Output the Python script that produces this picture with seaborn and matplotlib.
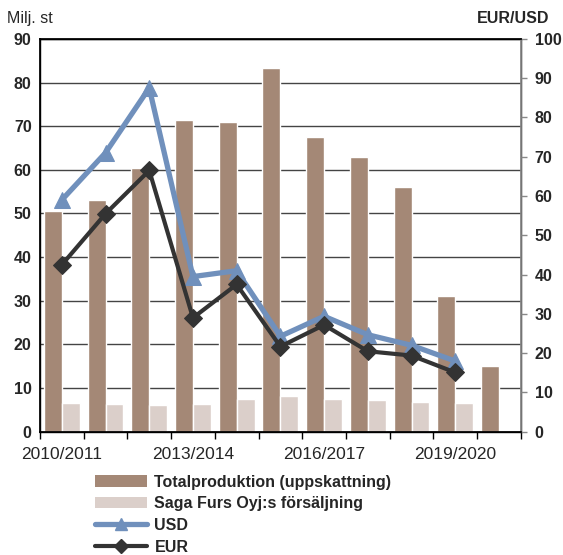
import numpy as np
import pandas as pd
import matplotlib
matplotlib.use("Agg")
import matplotlib.pyplot as plt
import seaborn as sns
from matplotlib.lines import Line2D
from matplotlib.patches import Patch

seasons = ["2010/2011", "2011/2012", "2012/2013", "2013/2014", "2014/2015",
           "2015/2016", "2016/2017", "2017/2018", "2018/2019", "2019/2020",
           "2020/2021"]
total_prod = [50.5, 53.0, 60.5, 71.3, 71.0, 83.3, 67.5, 63.0, 56.0, 31.0, 15.0]
saga_sales = [6.5, 6.3, 6.1, 6.3, 7.4, 8.1, 7.4, 7.2, 6.9, 6.5, np.nan]
usd = [59.0, 71.0, 87.5, 39.5, 41.0, 24.3, 29.4, 24.7, 22.0, 18.0, np.nan]
eur = [42.5, 55.5, 66.5, 29.0, 37.5, 21.7, 27.2, 20.5, 19.4, 15.1, np.nan]
tick_labels = ["2010/2011", "2013/2014", "2016/2017", "2019/2020"]

s1 = "Totalproduktion (uppskattning)"
s2 = "Saga Furs Oyj:s försäljning"
c_total = "#A48876"
c_saga = "#DBCFCA"
c_usd = "#7090BC"
c_eur = "#333333"

sns.set_theme(style="white")
plt.rcParams["font.family"] = ["Liberation Sans", "DejaVu Sans"]

df = pd.DataFrame({
    "season": seasons * 2,
    "value": total_prod + saga_sales,
    "series": [s1] * len(seasons) + [s2] * len(seasons),
})

fig = plt.figure(figsize=(5.63, 5.55), dpi=100)
ax = fig.add_axes([0.071, 0.222, 0.854, 0.708])
sns.barplot(data=df, x="season", y="value", hue="series", order=seasons,
            hue_order=[s1, s2], palette=[c_total, c_saga], width=0.82,
            saturation=1, ax=ax, legend=False, errorbar=None)

ax.set_ylim(0, 90)
ax.set_yticks(np.arange(0, 91, 10))
ax.yaxis.grid(True, color="#444444", linewidth=1.0)
ax.set_axisbelow(True)
ax.set_xlim(-0.5, len(seasons) - 0.5)
ax.set_xlabel("")
ax.set_ylabel("")
for lbl in ax.get_yticklabels():
    lbl.set_fontweight("bold")
ax.tick_params(axis="y", labelsize=11.5, length=0, pad=6)

pos = np.arange(len(seasons))
ax.set_xticks(pos[::3])
ax.set_xticklabels(tick_labels, fontsize=12.5)
ax.set_xticks(np.arange(len(seasons) + 1) - 0.5, minor=True)
ax.tick_params(axis="x", which="major", length=0, pad=11)
ax.tick_params(axis="x", which="minor", length=5, width=1, color="black",
               bottom=True, direction="out")
for sp in ax.spines.values():
    sp.set_color("black")
    sp.set_linewidth(1.0)

ax2 = ax.twinx()
ldf = pd.DataFrame({"x": pos, "usd": usd, "eur": eur})
sns.lineplot(data=ldf, x="x", y="usd", ax=ax2, color=c_usd, linewidth=3.8,
             marker="^", markersize=11, markeredgecolor=c_usd)
sns.lineplot(data=ldf, x="x", y="eur", ax=ax2, color=c_eur, linewidth=3.0,
             marker="D", markersize=9, markeredgecolor=c_eur)
ax2.set_ylim(0, 100)
ax2.set_yticks(np.arange(0, 101, 10))
ax2.set_xlim(-0.5, len(seasons) - 0.5)
ax2.set_ylabel("")
ax2.set_xlabel("")
ax2.grid(False)
for lbl in ax2.get_yticklabels():
    lbl.set_fontweight("bold")
ax2.tick_params(axis="y", labelsize=11.5, length=4, width=1, color="#888888",
                direction="out", pad=6, right=True)
ax2.spines["right"].set_color("#888888")
for sp in ["left", "top", "bottom"]:
    ax2.spines[sp].set_color("black")

fig.text(0.012, 0.966, "Milj. st", fontsize=11.5, ha="left", va="center")
fig.text(0.975, 0.966, "EUR/USD", fontsize=11.5, ha="right", va="center",
         fontweight="bold")

handles = [
    Patch(facecolor=c_total, edgecolor="none"),
    Patch(facecolor=c_saga, edgecolor="none"),
    Line2D([], [], color=c_usd, linewidth=3.8, marker="^", markersize=9),
    Line2D([], [], color=c_eur, linewidth=3.0, marker="D", markersize=7),
]
labels = [s1, s2, "USD", "EUR"]
leg = fig.legend(handles, labels, loc="upper left", bbox_to_anchor=(0.168, 0.145),
                 frameon=False, prop={"weight": "bold", "size": 11.5},
                 handlelength=3.3, handleheight=0.7, handletextpad=0.45,
                 labelspacing=0.42, borderaxespad=0, borderpad=0)

fig.savefig("out.png", dpi=100)
